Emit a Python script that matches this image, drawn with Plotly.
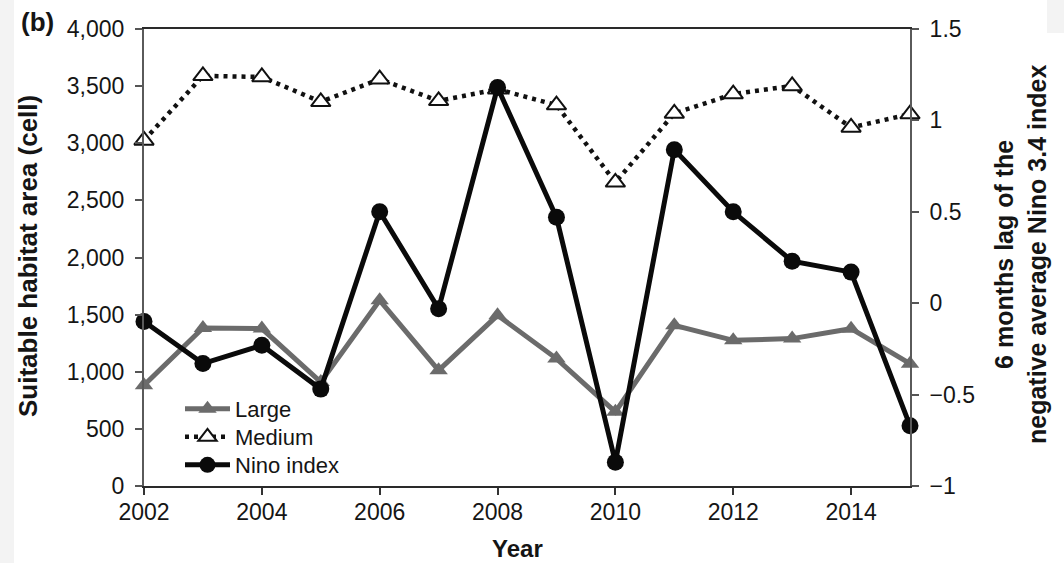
import plotly.graph_objects as go

# Annual suitable habitat area (cells) and the lagged Nino 3.4 index
years = list(range(2002, 2016))
large = [882, 1383, 1378, 910, 1625, 1013, 1494, 1115, 649, 1406, 1275, 1290, 1377, 1071]
medium = [3025, 3590, 3580, 3363, 3561, 3371, 3473, 3334, 2658, 3261, 3430, 3502, 3138, 3255]
nino = [-0.10, -0.33, -0.23, -0.47, 0.50, -0.03, 1.18, 0.47, -0.87, 0.84, 0.50, 0.23, 0.17, -0.67]

x_ticks = [2002, 2004, 2006, 2008, 2010, 2012, 2014]

FONT = "Liberation Sans, Arial, sans-serif"
W, H = 1064, 563
L, R, T, B = 144, 154, 29, 77
PW, PH = W - L - R, H - T - B


def px_x(px):
    return (px - L) / PW


def px_y(py):
    return (H - B - py) / PH


fig = go.Figure()

fig.add_trace(go.Scatter(
    x=years, y=large, name="Large", mode="lines+markers", legend="legend",
    line=dict(color="#6b6b6b", width=5),
    marker=dict(symbol="triangle-up", size=16, color="#6b6b6b"),
    cliponaxis=False,
))
fig.add_trace(go.Scatter(
    x=years, y=medium, name="Medium", mode="lines+markers", legend="legend2",
    line=dict(color="#111111", width=4.5, dash="4px,5px"),
    marker=dict(symbol="triangle-up", size=17, color="white",
                line=dict(color="#111111", width=2)),
    cliponaxis=False,
))
fig.add_trace(go.Scatter(
    x=years, y=nino, name="Nino index", mode="lines+markers", yaxis="y2",
    legend="legend3",
    line=dict(color="#0a0a0a", width=5),
    marker=dict(symbol="circle", size=17, color="#0a0a0a"),
    cliponaxis=False,
))

tickfont = dict(family=FONT, size=23, color="#151515")


def legend_at(py):
    # one legend box per series so the rows sit at fixed pixel heights
    return dict(
        x=px_x(180), y=px_y(py), xanchor="left", yanchor="middle",
        font=dict(family=FONT, size=22, color="#151515"),
        bgcolor="rgba(0,0,0,0)", itemwidth=45,
    )


fig.update_layout(
    width=W, height=H, autosize=False,
    margin=dict(l=L, r=R, t=T, b=B, pad=0),
    paper_bgcolor="white", plot_bgcolor="white",
    showlegend=True,
    legend=legend_at(409),
    legend2=legend_at(437),
    legend3=legend_at(465),
    xaxis=dict(
        range=[2002, 2015], tickvals=x_ticks, ticks="outside", ticklen=7,
        tickwidth=1.5, tickcolor="#333333", showline=True, linecolor="#2a2a2a",
        linewidth=2, mirror=True, showgrid=False, zeroline=False,
        tickfont=tickfont, ticklabelstandoff=-3,
    ),
    yaxis=dict(
        range=[0, 4000], dtick=500, tickformat=",", ticks="outside", ticklen=7,
        tickwidth=1.5, tickcolor="#555555", showline=True, linecolor="#5a5a5a",
        linewidth=2, showgrid=False, zeroline=False, tickfont=tickfont,
        ticklabelstandoff=6,
    ),
    yaxis2=dict(
        overlaying="y", side="right", range=[-1, 1.5], dtick=0.5,
        ticks="outside", ticklen=7, tickwidth=1.5, tickcolor="#555555",
        showline=True, linecolor="#5a5a5a", linewidth=2, showgrid=False,
        zeroline=False, tickfont=tickfont, ticklabelstandoff=6,
    ),
    shapes=[
        dict(type="rect", xref="paper", yref="paper", layer="below",
             x0=px_x(0), x1=px_x(14), y0=px_y(H), y1=px_y(0),
             fillcolor="#f3f3f3", line=dict(width=0)),
        dict(type="rect", xref="paper", yref="paper", layer="below",
             x0=px_x(1047), x1=px_x(W), y0=px_y(33), y1=px_y(0),
             fillcolor="#f3f3f3", line=dict(width=0)),
    ],
    annotations=[
        dict(text="<b>(b)</b>", xref="paper", yref="paper",
             x=px_x(19), y=px_y(22), xanchor="left", yanchor="middle",
             showarrow=False, font=dict(family=FONT, size=26, color="#151515")),
        dict(text="<b>Suitable habitat area (cell)</b>", xref="paper", yref="paper",
             x=px_x(28), y=px_y(256), xanchor="center", yanchor="middle",
             textangle=-90, showarrow=False,
             font=dict(family=FONT, size=26, color="#151515")),
        dict(text="<b>6 months lag of the<br>negative average Nino 3.4 index</b>",
             xref="paper", yref="paper", x=px_x(1020), y=px_y(255),
             xanchor="center", yanchor="middle", textangle=-90,
             showarrow=False, font=dict(family=FONT, size=25, color="#151515")),
        dict(text="<b>Year</b>", xref="paper", yref="paper",
             x=px_x(517), y=px_y(548), xanchor="center", yanchor="middle",
             showarrow=False, font=dict(family=FONT, size=24, color="#151515")),
    ],
)

fig.write_html("out.html")
